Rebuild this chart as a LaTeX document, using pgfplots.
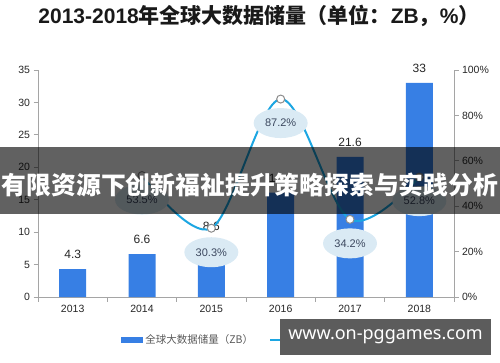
\documentclass[border=0pt]{standalone}
\usepackage{pgfplots}
\pgfplotsset{compat=1.18}
\usepackage{fontspec}
\setmainfont{Liberation Sans}
\newfontfamily\cjk{Noto Sans CJK SC}
\newfontfamily\wmfont{Noto Sans}
\usetikzlibrary{shapes.geometric}
\definecolor{barblue}{RGB}{55,127,228}
\definecolor{linecyan}{RGB}{28,166,226}
\definecolor{ellfill}{RGB}{218,234,244}
\definecolor{axgray}{RGB}{165,165,165}
\definecolor{txt}{RGB}{38,38,38}
\definecolor{lbl}{RGB}{60,72,95}
\definecolor{wmgray}{RGB}{92,92,92}
\begin{document}
\begin{tikzpicture}[x=1bp,y=1bp]
\path[use as bounding box] (0,0) rectangle (500,362);
\begin{axis}[
  at={(38bp,65bp)}, anchor=south west,
  scale only axis, width=416bp, height=227bp,
  xmin=-0.5, xmax=5.5, ymin=0, ymax=35,
  axis x line*=bottom, axis y line*=left,
  axis line style={axgray, line width=0.8bp, -},
  xtick={-0.5,0.5,...,5.5},
  xticklabels={2013,2014,2015,2016,2017,2018},
  x tick label as interval,
  ytick={0,5,...,35},
  tick align=outside,
  major tick length=4.5bp,
  tick style={axgray, line width=0.8bp},
  ticklabel style={font=\fontsize{10.5bp}{12bp}\selectfont, text=txt},
  /pgf/number format/assume math mode=true,
  legend style={at={(0.2,-0.19)}, anchor=west, draw=none, fill=none, inner sep=0pt,
    font=\cjk\fontsize{10.5bp}{12bp}\selectfont, text=black!65,
    legend columns=2, /tikz/every even column/.append style={column sep=14bp}},
  legend cell align=left,
]
\addplot[ybar, bar width=27bp, fill=barblue, draw=none,
  nodes near coords,
  every node near coord/.append style={font=\fontsize{12bp}{14bp}\selectfont, text=txt, anchor=south, inner sep=0pt, yshift=10bp},
  area legend,
  legend image code/.code={\fill[barblue] (0bp,-3bp) rectangle (22bp,3bp);}]
  coordinates {(0,4.3) (1,6.6) (2,8.6) (3,16.1) (4,21.6) (5,33)};
\addlegendentry{全球大数据储量（ZB）}
\addlegendimage{linecyan, line width=2bp, legend image code/.code={\draw[linecyan, line width=2bp] (0bp,0bp) -- (22bp,0bp);}}
\addlegendentry{增长率（\%）}
\end{axis}
\begin{axis}[
  at={(38bp,65bp)}, anchor=south west,
  scale only axis, width=416bp, height=227bp,
  xmin=-0.5, xmax=5.5, ymin=0, ymax=100,
  axis x line=none, axis y line*=right,
  axis line style={axgray, line width=0.8bp, -},
  ytick={0,20,...,100},
  yticklabel={\pgfmathprintnumber{\tick}\%},
  tick align=outside,
  major tick length=4.5bp,
  tick style={axgray, line width=0.8bp},
  ticklabel style={font=\fontsize{10.5bp}{12bp}\selectfont, text=txt},
  /pgf/number format/assume math mode=true,
]
\addplot[linecyan, line width=2bp, smooth, tension=0.55,
  mark=*, mark size=4bp, mark options={fill=white, draw=black!45, line width=1bp},
  nodes near coords, point meta=explicit symbolic,
  every node near coord/.append style={ellipse, fill=ellfill, minimum width=54bp, minimum height=30bp,
    inner sep=0pt, anchor=center, yshift=-24bp, font=\fontsize{11bp}{13bp}\selectfont, text=lbl}]
  coordinates {(1,53.5) [53.5\%] (2,30.3) [30.3\%] (3,87.2) [87.2\%] (4,34.2) [34.2\%] (5,52.8) [52.8\%]};
\end{axis}
\node[text=black!90, font=\bfseries\fontsize{21bp}{24bp}\selectfont] at (259,346)
  {2013-2018{\cjk 年全球大数据储量（单位：}ZB{\cjk ，}\%{\cjk ）}};
\fill[black, opacity=0.62] (0,148) rectangle (500,215);
\node[text=white, inner sep=0pt, font=\cjk\bfseries\fontsize{24.8bp}{28bp}\selectfont] at (250,177)
  {有限资源下创新福祉提升策略探索与实践分析};
\fill[wmgray] (280,7) rectangle (491,43);
\node[text=white, font=\wmfont\bfseries\fontsize{18bp}{20bp}\selectfont] at (385.5,25)
  {www.on-pggames.com};
\end{tikzpicture}
\end{document}
